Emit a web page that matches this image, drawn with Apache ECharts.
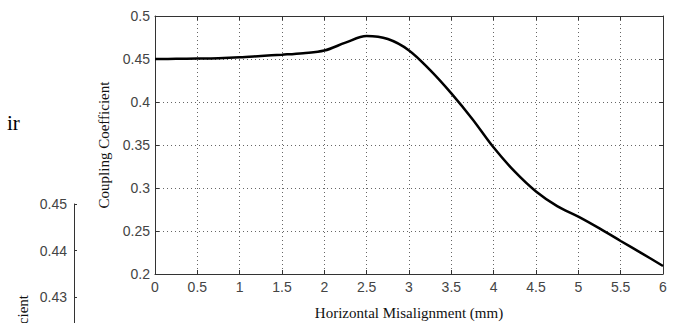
<!DOCTYPE html>
<html>
<head>
<meta charset="utf-8">
<script src="https://cdn.jsdelivr.net/npm/echarts@6/dist/echarts.min.js"></script>
<style>
html,body{margin:0;padding:0;background:#fff;}
#chart{width:681px;height:323px;}
</style>
</head>
<body>
<div id="chart"></div>
<script>
// Data
var misalignment = [0, 0.25, 0.5, 0.75, 1.0, 1.25, 1.5, 1.75, 2.0, 2.25, 2.5, 2.75, 3.0, 3.25, 3.5, 3.75, 4.0, 4.25, 4.5, 4.75, 5.0, 5.25, 5.5, 5.75, 6.0];
var coupling = [0.450, 0.4502, 0.4505, 0.451, 0.452, 0.4535, 0.455, 0.4568, 0.4598, 0.469, 0.4767, 0.4732, 0.460, 0.437, 0.410, 0.380, 0.347, 0.319, 0.296, 0.279, 0.2667, 0.253, 0.2384, 0.224, 0.2093];
var xTitle = 'Horizontal Misalignment (mm)';
var yTitle = 'Coupling Coefficient';
var sideTicks = [0.42, 0.43, 0.44, 0.45];
var sideText = 'ir';

var chart = echarts.init(document.getElementById('chart'), null, {renderer: 'svg'});
var pts = misalignment.map(function (x, i) { return [x, coupling[i]]; });
var axisCol = '#333';
var gridLine = {show: true, lineStyle: {color: '#666', width: 1, type: [1, 3]}};
var labelFont = {fontFamily: 'Liberation Sans, Arial, sans-serif', fontSize: 14, color: '#444'};
var titleFont = {fontFamily: 'Liberation Serif, Times New Roman, serif', fontSize: 15, color: '#111'};

var option = {
  backgroundColor: '#fff',
  animation: false,
  grid: [
    {left: 155, right: 18, top: 16, bottom: 49, show: false, outerBoundsMode: 'none'},
    {left: 74, top: 204, width: 10, height: 140, show: false, outerBoundsMode: 'none'}
  ],
  xAxis: [
    {
      gridIndex: 0, type: 'value', min: 0, max: 6, interval: 0.5,
      axisLine: {show: true, onZero: false, lineStyle: {color: axisCol, width: 1}},
      axisTick: {show: true, inside: true, length: 4, lineStyle: {color: axisCol}},
      axisLabel: Object.assign({margin: 6}, labelFont),
      splitLine: gridLine,
      name: xTitle, nameLocation: 'middle', nameGap: 31,
      nameTextStyle: titleFont
    },
    {
      gridIndex: 0, type: 'value', min: 0, max: 6, interval: 0.5, position: 'top',
      axisLine: {show: true, onZero: false, lineStyle: {color: axisCol, width: 1}},
      axisTick: {show: true, inside: true, length: 4, lineStyle: {color: axisCol}},
      axisLabel: {show: false}, splitLine: {show: false}
    },
    {gridIndex: 1, type: 'value', show: false}
  ],
  yAxis: [
    {
      gridIndex: 0, type: 'value', min: 0.2, max: 0.5, interval: 0.05,
      axisLine: {show: true, onZero: false, lineStyle: {color: axisCol, width: 1}},
      axisTick: {show: true, inside: true, length: 4, lineStyle: {color: axisCol}},
      axisLabel: Object.assign({margin: 5}, labelFont),
      splitLine: gridLine,
      name: yTitle, nameLocation: 'middle', nameGap: 38,
      nameTextStyle: titleFont
    },
    {
      gridIndex: 0, type: 'value', min: 0.2, max: 0.5, interval: 0.05, position: 'right',
      axisLine: {show: true, onZero: false, lineStyle: {color: axisCol, width: 1}},
      axisTick: {show: true, inside: true, length: 4, lineStyle: {color: axisCol}},
      axisLabel: {show: false}, splitLine: {show: false}
    },
    {
      gridIndex: 1, type: 'value', min: sideTicks[0], max: sideTicks[sideTicks.length - 1], interval: 0.01,
      axisLine: {show: true, onZero: false, lineStyle: {color: axisCol, width: 1}},
      axisTick: {show: true, inside: true, length: 3, lineStyle: {color: axisCol}},
      axisLabel: Object.assign({margin: 7, showMinLabel: false, formatter: function (v) { return v.toFixed(2); }}, labelFont),
      splitLine: {show: false}
    }
  ],
  graphic: [
    {
      type: 'text', x: 23, y: 295, rotation: Math.PI / 2,
      style: {text: yTitle, font: '15px "Liberation Serif", serif', fill: '#111', align: 'right', verticalAlign: 'middle'}
    },
    {
      type: 'text', x: 7, y: 112,
      style: {text: sideText, font: '21px "Liberation Serif", serif', fill: '#000', align: 'left', verticalAlign: 'top'}
    }
  ],
  series: [
    {
      type: 'line', xAxisIndex: 0, yAxisIndex: 0, data: pts, smooth: 0.35,
      showSymbol: false, symbol: 'none',
      lineStyle: {color: '#000', width: 2.5}
    }
  ]
};
chart.setOption(option);
</script>
</body>
</html>
